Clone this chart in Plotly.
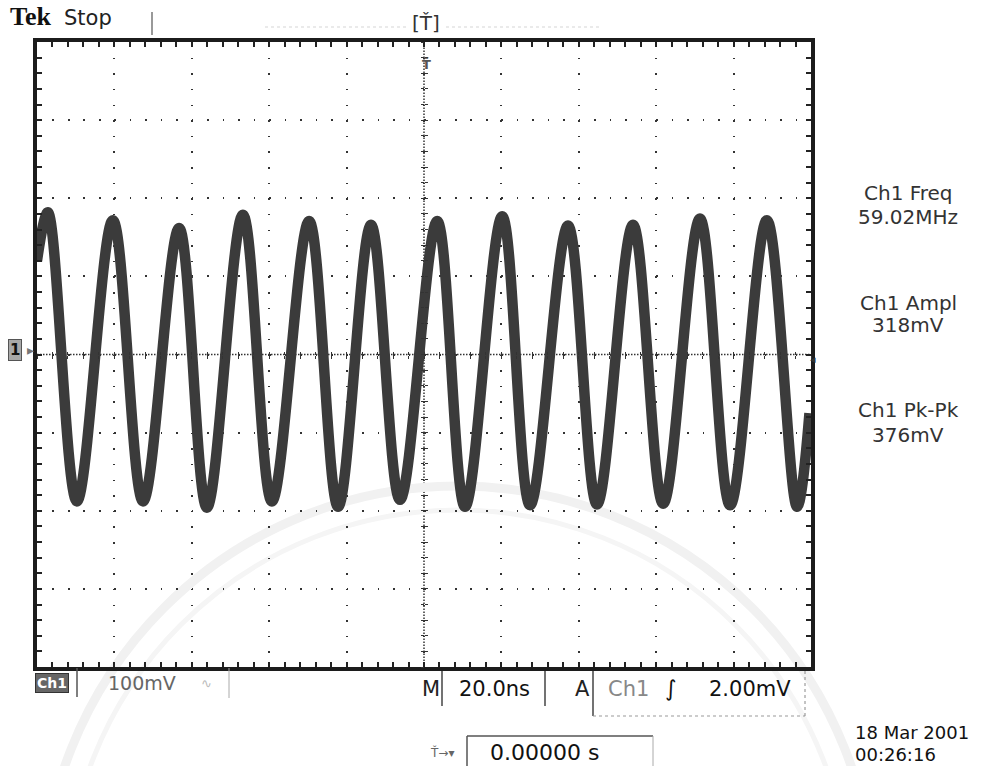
import plotly.graph_objects as go

# ---------------- data read from the screen ----------------
# time in ns relative to the trigger (centre of screen), voltage in mV
peak_t = [-97.2, -80.4, -63.3, -46.8, -29.7, -13.7, 3.4, 20.2, 37.2, 54.0, 71.3, 88.6]
peak_mv = [182, 172, 162, 179, 171, 166, 171, 177, 165, 166, 174, 172]
trough_t = [-89.7, -72.6, -56.1, -39.3, -22.2, -6.2, 10.6, 27.4, 44.7, 61.8, 79.1, 96.4]
trough_mv = [-188, -188, -196, -188, -195, -186, -195, -193, -192, -191, -193, -195]
edge_t = [-100.0, 99.6]
edge_mv = [120, -75]

meas_labels = ["Ch1 Freq", "Ch1 Ampl", "Ch1 Pk-Pk"]
meas_values = ["59.02MHz", "318mV", "376mV"]
ch_scale = "100mV"
timebase = "20.0ns"
trig_src = "Ch1"
trig_level = "2.00mV"
trig_pos = "0.00000 s"
date_str = "18 Mar 2001"
time_str = "00:26:16"

x_range = [-100, 100]   # 10 div x 20 ns
y_range = [-400, 400]   # 8 div x 100 mV
x_div, y_div = 20, 100

# ---------------- build waveform ----------------
pts = sorted(list(zip(peak_t, peak_mv)) + list(zip(trough_t, trough_mv)) + list(zip(edge_t, edge_mv)))
wave_t = [p[0] for p in pts]
wave_v = [p[1] for p in pts]

# plot-area geometry in pixels
L, R, T, B = 37, 811, 42, 667
W, H = R - L, B - T


def px(x):
    return (x - L) / W


def py(y):
    return (B - y) / H


fig = go.Figure()
fig.add_trace(go.Scatter(x=wave_t, y=wave_v, mode="lines",
                         line=dict(color="#3b3b3b", width=10.5, shape="spline", smoothing=1.0),
                         hoverinfo="skip", showlegend=False))
# helper traces so the centre-crosshair tick axes are drawn
for xa, ya in (("x2", "y2"), ("x3", "y3")):
    fig.add_trace(go.Scatter(x=[None], y=[None], xaxis=xa, yaxis=ya, mode="lines",
                             hoverinfo="skip", showlegend=False))

dotx = H / 40
doty = W / 50
frame = dict(showline=True, linewidth=3.5, linecolor="#1c1c1c", mirror="ticks",
             ticks="inside", ticklen=5, tickwidth=1.5, tickcolor="#222",
             showticklabels=False, zeroline=False, fixedrange=True)
fig.update_xaxes(range=x_range, dtick=x_div, tick0=0, showgrid=True, gridcolor="#333",
                 gridwidth=1.6, griddash=f"1.6px,{dotx - 1.6:.3f}px",
                 minor=dict(dtick=x_div / 5, ticks="inside", ticklen=5, tickwidth=1.5,
                            tickcolor="#222", showgrid=False), **frame)
fig.update_yaxes(range=y_range, dtick=y_div, tick0=0, showgrid=True, gridcolor="#333",
                 gridwidth=1.6, griddash=f"1.6px,{doty - 1.6:.3f}px",
                 minor=dict(dtick=y_div / 5, ticks="inside", ticklen=5, tickwidth=1.5,
                            tickcolor="#222", showgrid=False), **frame)

cross = dict(showgrid=False, zeroline=False, showline=False, showticklabels=False,
             ticklen=3, tickwidth=1.3, tickcolor="#333", fixedrange=True)
fig.update_layout(
    xaxis2=dict(overlaying="x", anchor="free", position=0.5, range=x_range, dtick=x_div / 5,
                tick0=0, ticks="outside", **cross),
    xaxis3=dict(overlaying="x", anchor="free", position=0.5, range=x_range, dtick=x_div / 5,
                tick0=0, ticks="inside", **cross),
    yaxis2=dict(overlaying="y", anchor="free", position=0.5, range=y_range, dtick=y_div / 5,
                tick0=0, ticks="outside", **cross),
    yaxis3=dict(overlaying="y", anchor="free", position=0.5, range=y_range, dtick=y_div / 5,
                tick0=0, ticks="inside", **cross),
)

shapes = []
# centre crosshair (dense dotted)
shapes.append(dict(type="line", xref="x", yref="paper", x0=0, x1=0, y0=0, y1=1,
                   line=dict(color="#333", width=1.5, dash="1.5px,1.5px"), layer="below"))
shapes.append(dict(type="line", xref="paper", yref="y", x0=0, x1=1, y0=0, y1=0,
                   line=dict(color="#333", width=1.5, dash="1.5px,1.5px"), layer="below"))

# faint watermark rings
for r, col, w in ((416, "#f1f1f1", 9), (392, "#f5f5f5", 5)):
    cx, cy = 458, 902
    shapes.append(dict(type="circle", xref="paper", yref="paper",
                       x0=px(cx - r), x1=px(cx + r), y0=py(cy + r), y1=py(cy - r),
                       line=dict(color=col, width=w), layer="below"))


def seg(x0, y0, x1, y1, color="#444", width=1.5, dash="solid"):
    shapes.append(dict(type="line", xref="paper", yref="paper",
                       x0=px(x0), y0=py(y0), x1=px(x1), y1=py(y1),
                       line=dict(color=color, width=width, dash=dash)))


seg(152, 12, 152, 35, "#555", 1.2)
seg(265, 27, 408, 27, "#d5d5d5", 1, "dot")
seg(446, 27, 600, 27, "#d5d5d5", 1, "dot")
# bottom readout boxes
seg(77, 668, 77, 697, "#555", 1.5)
seg(229, 668, 229, 698, "#aaa", 1)
seg(442, 671, 442, 706, "#444", 1.5)
seg(545, 671, 545, 706, "#444", 1.5)
seg(593, 671, 593, 716, "#444", 1.5)
seg(593, 716, 805, 716, "#999", 1, "dot")
seg(805, 671, 805, 716, "#888", 1, "dot")
seg(467, 736, 653, 736, "#555", 1.5)
seg(467, 736, 467, 766, "#555", 1.5)
seg(653, 736, 653, 766, "#aaa", 1)

annotations = []


def ann(text, x, y, size=21, color="#222", family="DejaVu Sans", xanchor="center", **kw):
    annotations.append(dict(text=text, x=px(x), y=py(y), xref="paper", yref="paper",
                            xanchor=xanchor, yanchor="middle", showarrow=False,
                            font=dict(size=size, color=color, family=family), **kw))


ann("<b>Tek</b>", 8, 17, 26, "#111", "Liberation Serif", "left")
ann("Stop", 62, 18, 21, "#222", "DejaVu Sans", "left")
ann("[Ť]", 426, 23, 20, "#333")
ann("<b>Ť</b>", 426, 64, 13, "#555")
ann("<b>1</b>", 15, 350, 15, "#111", bgcolor="#a8a8a8", bordercolor="#555", borderwidth=1, borderpad=1)
ann("▸", 30, 350, 14, "#777")
ann("◂", 813, 360, 11, "#333")

for i, (lab, val) in enumerate(zip(meas_labels, meas_values)):
    ann(lab, 908, [193, 303, 410][i], 20, "#333")
    ann(val, 908, [217, 325, 435][i], 20, "#333")

ann("<b>Ch1</b>", 52, 683, 14, "#fff", bgcolor="#666", bordercolor="#333", borderwidth=1, borderpad=1)
ann(ch_scale, 142, 683, 19, "#666")
ann("∿", 206, 683, 13, "#bbb")
ann("M", 431, 689, 21, "#222")
ann(timebase, 494, 689, 21, "#111")
ann("A", 582, 689, 21, "#222")
ann(trig_src, 628, 689, 21, "#888")
ann("∫", 670, 689, 22, "#111")
ann(trig_level, 750, 689, 21, "#111")
ann("Ť→▾", 442, 752, 12, "#666")
ann(trig_pos, 544, 752, 22, "#111")
ann(date_str, 853, 732, 18, "#111", xanchor="left")
ann(time_str, 853, 754, 18, "#111", xanchor="left")

fig.update_layout(width=990, height=766, margin=dict(l=L, r=990 - R, t=T, b=766 - B),
                  paper_bgcolor="white", plot_bgcolor="white", showlegend=False,
                  shapes=shapes, annotations=annotations)

fig.write_html("out.html")
